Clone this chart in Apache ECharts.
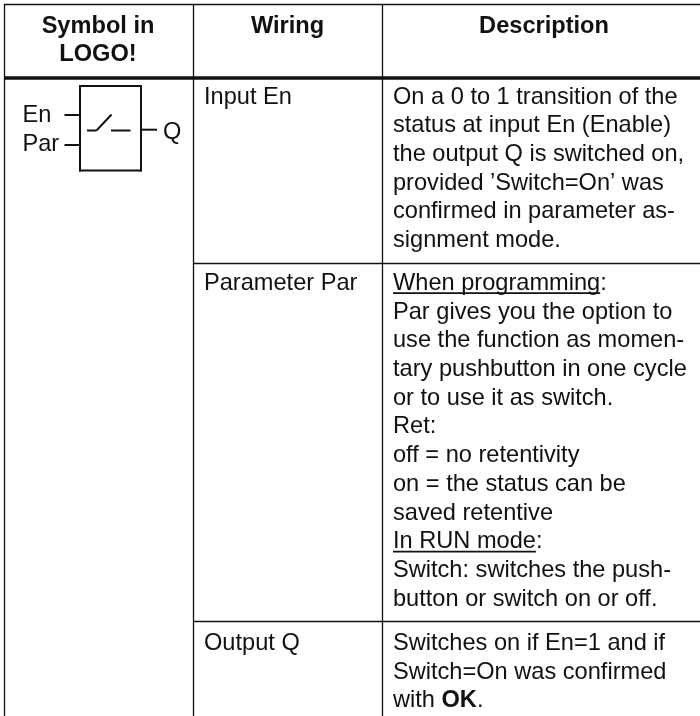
<!DOCTYPE html>
<html>
<head>
<meta charset="utf-8">
<script src="https://cdn.jsdelivr.net/npm/echarts@6/dist/echarts.min.js"></script>
<style>html,body{margin:0;padding:0;background:#fff}#c{width:700px;height:716px}</style>
</head>
<body>
<div id="c"></div>
<script>
// ---- content ----
var headerSymbol = ['Symbol in', 'LOGO!'];
var headerWiring = ['Wiring'];
var headerDescription = ['Description'];
var wiringLabels = ['Input En', 'Parameter Par', 'Output Q'];
var descriptionInput = [
  'On a 0 to 1 transition of the',
  'status at input En (Enable)',
  'the output Q is switched on,',
  'provided \u2019Switch=On\u2019 was',
  'confirmed in parameter as-',
  'signment mode.'
];
var descriptionParameter = [
  'When programming:',
  'Par gives you the option to',
  'use the function as momen-',
  'tary pushbutton in one cycle',
  'or to use it as switch.',
  'Ret:',
  'off = no retentivity',
  'on = the status can be',
  'saved retentive',
  'In RUN mode:',
  'Switch: switches the push-',
  'button or switch on or off.'
];
var descriptionOutput = [
  'Switches on if En=1 and if',
  'Switch=On was confirmed',
  'with {b|OK}.'
];
var underlinedParts = ['When programming', 'In RUN mode'];
var symbolPins = ['En', 'Par', 'Q'];

// ---- layout ----
var FONT_SIZE = 23.6, FAMILY = '"Liberation Sans", Arial, sans-serif', INK = '#111';
var LINE = 28.72;
var colX = [4.5, 193.5, 382.5, 700];
var ruleY = { top: 4.5, header: 78, row1: 263.5, row2: 621.5, bottom: 716 };
var PAD = 10.5;
var firstBaseline = [103.5, 289.8, 650];
var headerBaseline = 32.8;
var MID = 0.275; // baseline to text middle, in em

function textItem(str, x, baseline, bold, align) {
  return { str: str, x: x, y: baseline - MID * FONT_SIZE, bold: bold, align: align };
}
var texts = [];
var centers = [98, 287.5, 544];
headerSymbol.forEach(function (s, i) { texts.push(textItem(s, centers[0], headerBaseline + i * 28, true, 'center')); });
headerWiring.forEach(function (s) { texts.push(textItem(s, centers[1], headerBaseline, true, 'center')); });
headerDescription.forEach(function (s) { texts.push(textItem(s, centers[2], headerBaseline, true, 'center')); });
wiringLabels.forEach(function (s, i) { texts.push(textItem(s, colX[1] + PAD, firstBaseline[i], false, 'left')); });
[descriptionInput, descriptionParameter, descriptionOutput].forEach(function (block, b) {
  block.forEach(function (s, i) { texts.push(textItem(s, colX[2] + PAD, firstBaseline[b] + i * LINE, false, 'left')); });
});
texts.push(textItem(symbolPins[0], 22.5, 121.5, false, 'left'));
texts.push(textItem(symbolPins[1], 22.5, 151, false, 'left'));
texts.push(textItem(symbolPins[2], 163, 138.5, false, 'left'));

var rules = [
  [colX[0] - 0.5, ruleY.top, colX[3], ruleY.top, 1.3],
  [colX[0], ruleY.header, colX[3], ruleY.header, 3.6],
  [colX[1], ruleY.row1, colX[3], ruleY.row1, 1.3],
  [colX[1], ruleY.row2, colX[3], ruleY.row2, 1.3],
  [colX[0], ruleY.top, colX[0], ruleY.bottom, 1.3],
  [colX[1], ruleY.top, colX[1], ruleY.bottom, 1.3],
  [colX[2], ruleY.top, colX[2], ruleY.bottom, 1.3]
];
var symbolLines = [
  [79, 86, 142, 86, 2], [141, 85, 141, 171.5, 2], [142, 170.5, 79, 170.5, 2], [80, 171.5, 80, 85, 2],
  [64.5, 115, 80, 115, 2], [64.5, 145, 80, 145, 2], [141, 129.7, 157, 129.7, 2],
  [87, 130.5, 96.5, 130.5, 2], [96.5, 130.5, 111.5, 114.5, 2], [111, 130.5, 130.5, 130.5, 2]
];
// underlines under the two headings, as wide as the measured words
var ctx = document.createElement('canvas').getContext('2d');
ctx.font = FONT_SIZE + 'px ' + FAMILY;
var underlineRows = [firstBaseline[1], firstBaseline[1] + 9 * LINE];
var underlines = underlinedParts.map(function (s, i) {
  var x = colX[2] + PAD;
  return [x, underlineRows[i] + 3.4, x + ctx.measureText(s).width, underlineRows[i] + 3.4, 1.7];
});

function lineRender(p, api) {
  var a = api.coord([api.value(0), api.value(1)]);
  var b = api.coord([api.value(2), api.value(3)]);
  return { type: 'line', shape: { x1: a[0], y1: a[1], x2: b[0], y2: b[1] },
    style: { stroke: INK, lineWidth: api.value(4), lineCap: 'butt', fill: null } };
}
function textRender(p, api) {
  var t = texts[p.dataIndex];
  var a = api.coord([t.x, t.y]);
  return { type: 'text', x: a[0], y: a[1], style: {
    text: t.str, fill: INK, align: t.align, verticalAlign: 'middle',
    font: (t.bold ? 'bold ' : '') + FONT_SIZE + 'px ' + FAMILY,
    rich: { b: { fontWeight: 'bold', fontSize: FONT_SIZE, fontFamily: FAMILY, fill: INK, color: INK } }
  } };
}

var chart = echarts.init(document.getElementById('c'), null, { renderer: 'canvas' });
chart.setOption({
  animation: false,
  backgroundColor: '#fff',
  grid: { left: 0, right: 0, top: 0, bottom: 0 },
  xAxis: { type: 'value', min: 0, max: 700, show: false },
  yAxis: { type: 'value', min: 0, max: 716, inverse: true, show: false },
  series: [
    { type: 'custom', name: 'rules', clip: false, silent: true, renderItem: lineRender, data: rules.concat(underlines, symbolLines) },
    { type: 'custom', name: 'text', clip: false, silent: true, renderItem: textRender,
      data: texts.map(function (t) { return [t.x, t.y]; }) }
  ]
});
</script>
</body>
</html>
